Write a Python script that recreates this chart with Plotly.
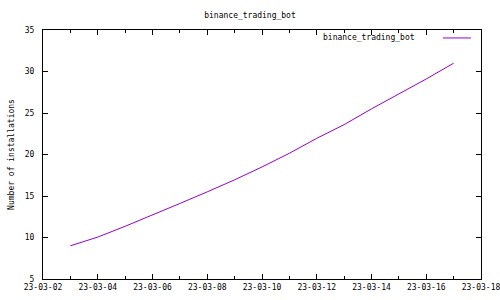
import plotly.graph_objects as go

dates = ["2023-03-03", "2023-03-04", "2023-03-05", "2023-03-06", "2023-03-07",
         "2023-03-08", "2023-03-09", "2023-03-10", "2023-03-11", "2023-03-12",
         "2023-03-13", "2023-03-14", "2023-03-15", "2023-03-16", "2023-03-17"]
installs = [9.0, 10.05, 11.35, 12.7, 14.1, 15.5, 16.95, 18.5, 20.15, 21.95,
            23.6, 25.5, 27.25, 29.1, 31.0]
series_name = "binance_trading_bot"
title_text = "binance_trading_bot"
y_label = "Number of installations"
x_range = ["2023-03-02", "2023-03-18"]
y_range = [5, 35]

FONT = "DejaVu Sans Mono"
COLOR = "#9400D3"

fig = go.Figure()
fig.add_trace(go.Scatter(x=dates, y=installs, mode="lines", name=series_name,
                         line=dict(color=COLOR, width=1), showlegend=False))

axis_common = dict(showgrid=False, zeroline=False, showline=True, linecolor="black",
                   linewidth=1, mirror="ticks", ticks="inside", ticklen=5,
                   tickcolor="black", ticklabeloverflow="allow", automargin=False,
                   tickfont=dict(family=FONT, size=8, color="black"))

fig.update_xaxes(range=x_range, type="date", tickformat="%y-%m-%d",
                 dtick=2 * 86400000, tick0="2023-03-02",
                 minor=dict(dtick=86400000, ticks="inside", ticklen=3, tickcolor="black"),
                 **axis_common)
fig.update_yaxes(range=y_range, dtick=5, ticklabelstandoff=6,
                 title=dict(text=y_label, font=dict(family=FONT, size=8, color="black"), standoff=8),
                 **axis_common)

fig.add_annotation(text=series_name, xref="paper", yref="paper", x=0.855, y=0.97,
                   xanchor="right", yanchor="middle", showarrow=False,
                   font=dict(family=FONT, size=8, color="black"))
fig.add_shape(type="line", xref="paper", yref="paper", x0=0.913, x1=0.977, y0=0.968, y1=0.968,
              line=dict(color=COLOR, width=1))

fig.update_layout(
    width=500, height=300,
    margin=dict(l=43, r=19, t=30, b=21),
    paper_bgcolor="white", plot_bgcolor="white",
    title=dict(text=title_text, x=0.5, xanchor="center", y=0.95, yanchor="middle",
               font=dict(family=FONT, size=8, color="black")),
)

fig.write_html("out.html")
